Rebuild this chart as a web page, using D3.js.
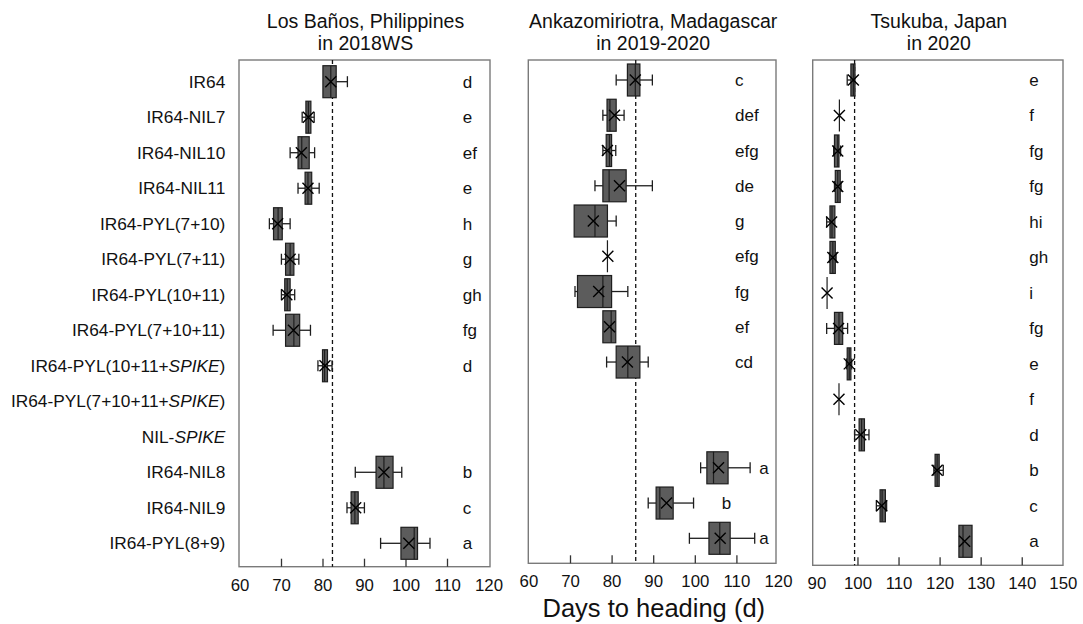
<!DOCTYPE html>
<html><head><meta charset="utf-8">
<script src="https://cdn.jsdelivr.net/npm/d3@7"></script>
<style>
html,body{margin:0;padding:0;background:#fff;}
svg{display:block;font-family:"Liberation Sans",Arial,Helvetica,sans-serif;}
</style></head>
<body><svg id="chart" width="1083" height="624"></svg>
<script>
// ---------- DATA ----------
const categories = ["IR64","IR64-NIL7","IR64-NIL10","IR64-NIL11","IR64-PYL(7+10)","IR64-PYL(7+11)",
  "IR64-PYL(10+11)","IR64-PYL(7+10+11)","IR64-PYL(10+11+SPIKE)","IR64-PYL(7+10+11+SPIKE)",
  "NIL-SPIKE","IR64-NIL8","IR64-NIL9","IR64-PYL(8+9)"];
const siteTitles = [["Los Baños, Philippines","in 2018WS"],["Ankazomiriotra, Madagascar","in 2019-2020"],["Tsukuba, Japan","in 2020"]];
// [min, q1, median, q3, max, mean] in days to heading
const losBanos = [
  [80.1,80.1,82.0,83.3,86.0,82.0],[75.1,76.0,76.6,77.2,78.0,76.6],[72.2,74.1,75.0,76.8,78.1,74.9],
  [74.1,75.8,76.5,77.4,79.2,76.5],[67.2,68.2,69.3,70.3,72.2,69.2],[70.1,71.1,72.2,73.1,74.3,72.2],
  [70.1,70.9,71.5,72.2,73.3,71.4],[68.1,71.1,73.1,74.5,77.1,73.0],[78.9,80.0,80.5,81.2,82.3,80.6],
  null,null,
  [87.9,92.9,94.8,97.0,99.1,94.8],[85.9,86.9,87.8,88.6,90.1,88.0],[94.0,98.9,102.1,102.9,105.9,100.8]];
const ankazomiriotra = [
  [81.1,83.8,85.7,86.8,89.8,85.7],[77.9,78.9,79.6,81.1,83.0,80.7],[77.9,78.7,79.5,80.0,81.0,79.0],
  [76.0,77.9,79.4,83.5,89.8,81.9],[71.0,71.0,76.0,79.0,81.1,75.6],[79.0,79.0,79.0,79.0,79.0,79.1],
  [71.2,71.8,77.9,80.0,83.9,76.9],[77.9,77.9,79.9,81.0,81.0,79.5],[78.8,81.1,83.9,86.8,88.8,83.8],
  null,null,
  [101.4,102.9,104.5,108.0,113.3,105.7],[88.8,90.7,91.6,94.8,99.7,93.2],[98.7,103.4,106.0,108.5,114.4,106.1]];
const tsukuba = [
  [97.5,98.4,99.0,99.4,99.4,99.0],[95.6,95.6,95.6,95.6,95.6,95.6],[94.2,94.4,95.2,95.5,95.9,95.2],
  [94.4,94.6,95.2,95.8,96.0,95.2],[92.5,93.3,93.8,94.5,94.5,93.7],[93.2,93.3,94.0,94.6,94.8,94.0],
  [92.6,92.6,92.6,92.6,92.6,92.6],[92.5,94.4,95.5,96.4,97.6,95.4],[97.3,97.5,98.0,98.4,98.6,98.0],
  [95.5,95.5,95.5,95.5,95.5,95.5],[99.3,100.4,101.0,101.7,102.8,100.8],[118.6,118.9,119.4,119.9,120.9,119.4],
  [104.6,105.5,106.0,106.8,107.1,105.9],[124.7,124.7,125.7,127.9,127.9,126.1]];
const losBanosLetters = ["d","e","ef","e","h","g","gh","fg","d","","","b","c","a"];
const ankazomiriotraLetters = ["c","def","efg","de","g","efg","fg","ef","cd","","","a","b","a"];
const tsukubaLetters = ["e","f","fg","fg","hi","gh","i","fg","e","f","d","b","c","a"];
const referenceLines = [82.4, 85.8, 99.3];
const losBanosTicks = [60,70,80,90,100,110,120];
const ankazomiriotraTicks = [60,70,80,90,100,110,120];
const tsukubaTicks = [90,100,110,120,130,140,150];
const xTitle = "Days to heading (d)";

// ---------- LAYOUT ----------
const panels = [
  {data:losBanos, letters:losBanosLetters, ticks:losBanosTicks, ref:referenceLines[0], title:siteTitles[0],
   dom:[60,120], rng:[239.5,488.5], fl:239, fr:490, top:60, bottom:566.7, y0:81.7, y1:543.3, lx:462.7, tly:591.5, lxOver:{}},
  {data:ankazomiriotra, letters:ankazomiriotraLetters, ticks:ankazomiriotraTicks, ref:referenceLines[1], title:siteTitles[1],
   dom:[60,120], rng:[528.4,778], fl:528.3, fr:776, top:60, bottom:563.3, y0:80, y1:538.3, lx:735, tly:587.5, lxOver:{11:759.3,12:721.7,13:759.3}},
  {data:tsukuba, letters:tsukubaLetters, ticks:tsukubaTicks, ref:referenceLines[2], title:siteTitles[2],
   dom:[90,150], rng:[816.4,1062.8], fl:812.7, fr:1063, top:60, bottom:565.3, y0:80, y1:541.3, lx:1029.3, tly:589, lxOver:{}}
];

const svg = d3.select("#chart");
const boxH = 32, capH = 11, xs = 5.5;
const fill = "#5c5c5c", dark = "#1e1e1e";

panels.forEach((p, pi) => {
  const x = d3.scaleLinear().domain(p.dom).range(p.rng);
  const y = d3.scalePoint().domain(categories).range([p.y0, p.y1]);
  const g = svg.append("g");

  g.append("rect").attr("x", p.fl).attr("y", p.top).attr("width", p.fr - p.fl).attr("height", p.bottom - p.top)
    .attr("fill", "none").attr("stroke", "#7a7a7a").attr("stroke-width", 1.4);

  const axis = d3.axisBottom(x).tickValues(p.ticks).tickSize(0).tickFormat(d3.format("d"));
  const ag = g.append("g").attr("transform", `translate(0,${p.bottom})`).call(axis);
  ag.select(".domain").remove();
  ag.selectAll("text").attr("y", p.tly - p.bottom).attr("dy", null)
    .attr("font-size", 16.8).attr("fill", "#111").attr("font-family", "Liberation Sans, Arial, sans-serif");
  ag.selectAll(".tick").filter(d => d !== p.dom[0] && d !== p.dom[1]).append("line")
    .attr("y1", 0).attr("y2", -8).attr("stroke", "#333").attr("stroke-width", 1.3);

  g.append("line").attr("x1", x(p.ref)).attr("x2", x(p.ref)).attr("y1", p.top).attr("y2", p.bottom)
    .attr("stroke", "#111").attr("stroke-width", 1.3).attr("stroke-dasharray", "4,3");

  categories.forEach((c, i) => {
    const d = p.data[i];
    const cy = y(c);
    if (d) {
      const [mn, q1, md, q3, mx, mean] = d;
      const bg = g.append("g");
      if (mn < q1) {
        bg.append("line").attr("x1", x(mn)).attr("x2", x(q1)).attr("y1", cy).attr("y2", cy).attr("stroke", dark).attr("stroke-width", 1.3);
        bg.append("line").attr("x1", x(mn)).attr("x2", x(mn)).attr("y1", cy - capH/2).attr("y2", cy + capH/2).attr("stroke", dark).attr("stroke-width", 1.3);
      }
      if (mx > q3) {
        bg.append("line").attr("x1", x(q3)).attr("x2", x(mx)).attr("y1", cy).attr("y2", cy).attr("stroke", dark).attr("stroke-width", 1.3);
        bg.append("line").attr("x1", x(mx)).attr("x2", x(mx)).attr("y1", cy - capH/2).attr("y2", cy + capH/2).attr("stroke", dark).attr("stroke-width", 1.3);
      }
      bg.append("rect").attr("x", x(q1)).attr("y", cy - boxH/2).attr("width", Math.max(0, x(q3) - x(q1))).attr("height", boxH)
        .attr("fill", fill).attr("stroke", dark).attr("stroke-width", 1.2);
      bg.append("line").attr("x1", x(md)).attr("x2", x(md)).attr("y1", cy - boxH/2).attr("y2", cy + boxH/2)
        .attr("stroke", dark).attr("stroke-width", 1.2);
      const mxp = x(mean);
      bg.append("path").attr("d", `M${mxp - xs},${cy - xs}L${mxp + xs},${cy + xs}M${mxp - xs},${cy + xs}L${mxp + xs},${cy - xs}`)
        .attr("stroke", "#000").attr("stroke-width", 1.4).attr("fill", "none");
    }
    const L = p.letters[i];
    if (L) {
      const lx = p.lxOver[i] !== undefined ? p.lxOver[i] : p.lx;
      g.append("text").attr("x", lx).attr("y", cy + 6).attr("font-size", 17).attr("fill", "#111").text(L);
    }
  });

  const cx = (p.fl + p.fr) / 2 + 1;
  p.title.forEach((t, k) => {
    g.append("text").attr("x", cx).attr("y", 27.5 + k * 22.5).attr("text-anchor", "middle")
      .attr("font-size", 19.5).attr("fill", "#111").text(t);
  });

  if (pi === 0) {
    categories.forEach(c => {
      const t = g.append("text").attr("x", 225.3).attr("y", y(c) + 6).attr("text-anchor", "end")
        .attr("font-size", 17.3).attr("fill", "#111");
      const m = c.match(/^(.*)(SPIKE)(.*)$/);
      if (m) {
        t.append("tspan").text(m[1]);
        t.append("tspan").attr("font-style", "italic").text(m[2]);
        if (m[3]) t.append("tspan").text(m[3]);
      } else t.text(c);
    });
  }
});

svg.append("text").attr("x", 653.8).attr("y", 616.5).attr("text-anchor", "middle")
  .attr("font-size", 25.5).attr("fill", "#111").text(xTitle);
</script></body></html>
